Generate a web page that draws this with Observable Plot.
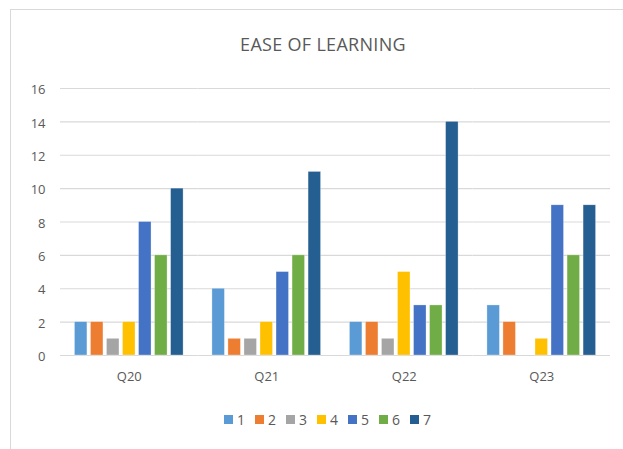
<!DOCTYPE html>
<html><head><meta charset="utf-8">
<script src="https://cdn.jsdelivr.net/npm/d3@7"></script>
<script src="https://cdn.jsdelivr.net/npm/@observablehq/plot@0.6"></script>
<style>
body{margin:0;background:#fff;font-family:"Open Sans",sans-serif;width:623px;height:449px;overflow:hidden;position:relative;}
#frame{position:absolute;left:10px;top:9px;width:640px;height:470px;border:1px solid #d9d9d9;box-sizing:border-box;}
#title{position:absolute;left:0;top:32px;width:646px;text-align:center;font-size:18px;line-height:normal;color:#595959;letter-spacing:0.3px;}
#chart{position:absolute;left:0;top:70px;}
#legend{position:absolute;left:0;top:410px;width:655px;display:flex;justify-content:center;gap:10px;font-size:14px;line-height:normal;color:#595959;}
#legend .item{display:flex;align-items:center;gap:4px;}
#legend .sw{width:9px;height:9px;display:inline-block;}
</style>
</head><body>
<div id="frame"></div>
<div id="title">EASE OF LEARNING</div>
<div id="chart"></div>
<div id="legend"></div>
<script>
const questions = ["Q20", "Q21", "Q22", "Q23"];
const seriesNames = ["1", "2", "3", "4", "5", "6", "7"];
const s1 = [2, 4, 2, 3];
const s2 = [2, 1, 2, 2];
const s3 = [1, 1, 1, 0];
const s4 = [2, 2, 5, 1];
const s5 = [8, 5, 3, 9];
const s6 = [6, 6, 3, 6];
const s7 = [10, 11, 14, 9];
const yTicks = [0, 2, 4, 6, 8, 10, 12, 14, 16];
const colors = ["#5B9BD5", "#ED7D31", "#A5A5A5", "#FFC000", "#4472C4", "#70AD47", "#255E91"];

const allSeries = [s1, s2, s3, s4, s5, s6, s7];
const data = [];
allSeries.forEach((vals, i) => {
  vals.forEach((v, j) => data.push({q: questions[j], s: seriesNames[i], v}));
});

const chart = Plot.plot({
  width: 623,
  height: 320,
  marginLeft: 60,
  marginRight: 13,
  marginTop: 18,
  marginBottom: 35,
  style: {fontFamily: "'Open Sans', sans-serif", fontSize: "13px", color: "#595959", background: "transparent"},
  fx: {domain: questions, padding: 0, label: null, axis: null, round: false},
  x: {domain: seriesNames, paddingInner: 0.22, paddingOuter: 0.9, axis: null, round: false},
  y: {domain: [0, 16], label: null},
  color: {domain: seriesNames, range: colors},
  marks: [
    Plot.gridY(yTicks, {stroke: "#d9d9d9", strokeOpacity: 1, strokeWidth: 1.2}),
    Plot.barY(data, {fx: "q", x: "s", y: "v", fill: "s", stroke: "#fff", strokeWidth: 0.6, strokeOpacity: 0.5}),
    Plot.axisY(yTicks, {tickSize: 0, tickPadding: 15, label: null, fill: "#595959", dy: 1.5, tickFormat: d => d}),
    Plot.axisFx({anchor: "bottom", tickSize: 0, tickPadding: 16, label: null, fill: "#595959"})
  ]
});
document.getElementById("chart").appendChild(chart);

const legend = d3.select("#legend");
seriesNames.forEach((name, i) => {
  const it = legend.append("div").attr("class", "item");
  it.append("span").attr("class", "sw").style("background", colors[i]);
  it.append("span").text(name);
});
</script>
</body></html>
